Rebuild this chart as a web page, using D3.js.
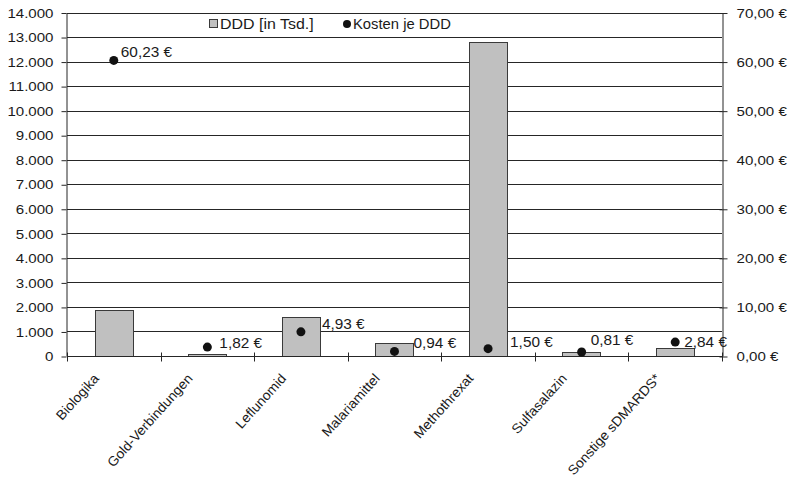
<!DOCTYPE html>
<html>
<head>
<meta charset="utf-8">
<script src="https://cdn.jsdelivr.net/npm/d3@7"></script>
<style>
  html, body { margin: 0; padding: 0; background: #fff; }
  svg { display: block; font-family: "Liberation Sans", Arial, sans-serif; }
</style>
</head>
<body>
<svg id="chart" width="793" height="483"></svg>
<script>
// Wirkstoffgruppen
const categories = ["Biologika", "Gold-Verbindungen", "Leflunomid", "Malariamittel",
                    "Methothrexat", "Sulfasalazin", "Sonstige sDMARDS*"];
// Tagesdosen in Tausend
const ddd = [1860, 70, 1580, 520, 12800, 170, 310];
// Kosten je Tagesdosis in Euro
const kosten = [60.23, 1.82, 4.93, 0.94, 1.50, 0.81, 2.84];
// Achsenbeschriftungen
const leftTicks = [0, 1000, 2000, 3000, 4000, 5000, 6000, 7000, 8000, 9000, 10000, 11000, 12000, 13000, 14000];
const rightTicks = [0, 10, 20, 30, 40, 50, 60, 70];
const legendLabels = ["DDD [in Tsd.]", "Kosten je DDD"];

// Versatz der Wertbeschriftungen zum Punkt (dx zum Textanfang, dy zur Textmitte)
const labelNudge = [[7, -9], [12, -4], [21, -8], [19, -9], [22, -7], [9, -12], [9, 0]];

const svg = d3.select("#chart");
const plot = { left: 67, right: 722, top: 12.5, bottom: 356 };
const lineCol = "#262626";
const textCol = "#1a1a1a";

const x = d3.scaleBand().domain(categories).range([plot.left, plot.right]).padding(0);
const yL = d3.scaleLinear().domain([0, 14000]).range([plot.bottom, plot.top]);
const yR = d3.scaleLinear().domain([0, 70]).range([plot.bottom, plot.top]);

const fmtL = d => d3.format(",")(d).replace(/,/g, ".");
const fmtR = d => d3.format(".2f")(d).replace(".", ",") + " €";
const crisp = v => Math.round(v) + 0.5;

// horizontale Text-Dehnung
function stretch(sel, k) {
  sel.each(function () {
    const len = this.getComputedTextLength();
    d3.select(this).attr("textLength", len * k).attr("lengthAdjust", "spacingAndGlyphs");
  });
}

// Gitterlinien
svg.append("g").selectAll("line").data(leftTicks).join("line")
  .attr("x1", plot.left).attr("x2", plot.right)
  .attr("y1", d => crisp(yL(d))).attr("y2", d => crisp(yL(d)))
  .attr("stroke", lineCol).attr("stroke-width", 1);

// Balken
const bw = x.bandwidth() * 0.41;
svg.append("g").selectAll("rect").data(ddd).join("rect")
  .attr("x", (d, i) => Math.round(x(categories[i]) + (x.bandwidth() - bw) / 2) + 0.5)
  .attr("y", d => Math.round(yL(d)) + 0.5)
  .attr("width", Math.round(bw))
  .attr("height", d => Math.max(0, Math.round(yL(0)) - Math.round(yL(d))))
  .attr("fill", "#c0c0c0").attr("stroke", "#3a3a3a").attr("stroke-width", 1);

// Linke Achse
const gL = svg.append("g").attr("transform", `translate(${crisp(plot.left) - 1},0)`)
  .call(d3.axisLeft(yL).tickValues(leftTicks).tickFormat(fmtL).tickSize(5).tickSizeOuter(0));
gL.select(".domain").attr("stroke", lineCol);
gL.selectAll(".tick line").attr("stroke", lineCol).attr("transform", "translate(0,0.5)");
gL.selectAll(".tick text").attr("x", -13).attr("fill", textCol).attr("font-size", 13)
  .attr("font-family", "Liberation Sans, Arial, sans-serif").attr("dy", "0.36em");
gL.selectAll(".tick text").call(stretch, 1.16);

// Rechte Achse
const gR = svg.append("g").attr("transform", `translate(${crisp(plot.right)},0)`)
  .call(d3.axisRight(yR).tickValues(rightTicks).tickFormat(fmtR).tickSize(5).tickSizeOuter(0));
gR.select(".domain").attr("stroke", lineCol);
gR.selectAll(".tick line").attr("stroke", lineCol).attr("x1", -3).attr("transform", "translate(0,0.5)");
gR.selectAll(".tick text").attr("x", 14).attr("fill", textCol).attr("font-size", 13)
  .attr("font-family", "Liberation Sans, Arial, sans-serif").attr("dy", "0.36em");
gR.selectAll(".tick text").call(stretch, 1.16);

// X-Achse mit Teilstrichen an den Kategoriegrenzen
const axisY = crisp(plot.bottom);
svg.append("line").attr("x1", plot.left).attr("x2", plot.right)
  .attr("y1", axisY).attr("y2", axisY).attr("stroke", lineCol);
const bounds = categories.map(c => x(c)).concat([plot.right]);
svg.append("g").selectAll("line").data(bounds).join("line")
  .attr("x1", d => crisp(d)).attr("x2", d => crisp(d))
  .attr("y1", axisY - 4).attr("y2", axisY + 5)
  .attr("stroke", lineCol);

// Kategorienbeschriftungen, schräg
svg.append("g").selectAll("text").data(categories).join("text")
  .attr("transform", d => `translate(${x(d) + x.bandwidth() / 2 - 14},${plot.bottom + 23}) rotate(-48)`)
  .attr("text-anchor", "end")
  .attr("font-size", 13.5).attr("fill", textCol)
  .text(d => d)
  .call(stretch, 1.03);

// Punkte: Kosten je DDD
const cx = i => x(categories[i]) + x.bandwidth() / 2;
svg.append("g").selectAll("circle").data(kosten).join("circle")
  .attr("cx", (d, i) => cx(i)).attr("cy", d => yR(d)).attr("r", 4.5)
  .attr("fill", "#111");

// Wertbeschriftungen
svg.append("g").selectAll("text").data(kosten).join("text")
  .attr("x", (d, i) => cx(i) + labelNudge[i][0])
  .attr("y", (d, i) => yR(d) + labelNudge[i][1])
  .attr("dy", "0.36em")
  .attr("font-size", 14.5).attr("fill", textCol)
  .text(d => fmtR(d))
  .call(stretch, 1.06);

// Legende
const lg = svg.append("g");
lg.append("rect").attr("x", 209.5).attr("y", 19.5).attr("width", 8).attr("height", 8)
  .attr("fill", "#c0c0c0").attr("stroke", "#3a3a3a");
lg.append("text").attr("x", 220).attr("y", 24).attr("dy", "0.36em")
  .attr("font-size", 14.5).attr("fill", textCol).text(legendLabels[0]).call(stretch, 1.1);
lg.append("circle").attr("cx", 347).attr("cy", 24).attr("r", 4).attr("fill", "#111");
lg.append("text").attr("x", 353).attr("y", 24).attr("dy", "0.36em")
  .attr("font-size", 14.5).attr("fill", textCol).text(legendLabels[1]).call(stretch, 1.02);
</script>
</body>
</html>
